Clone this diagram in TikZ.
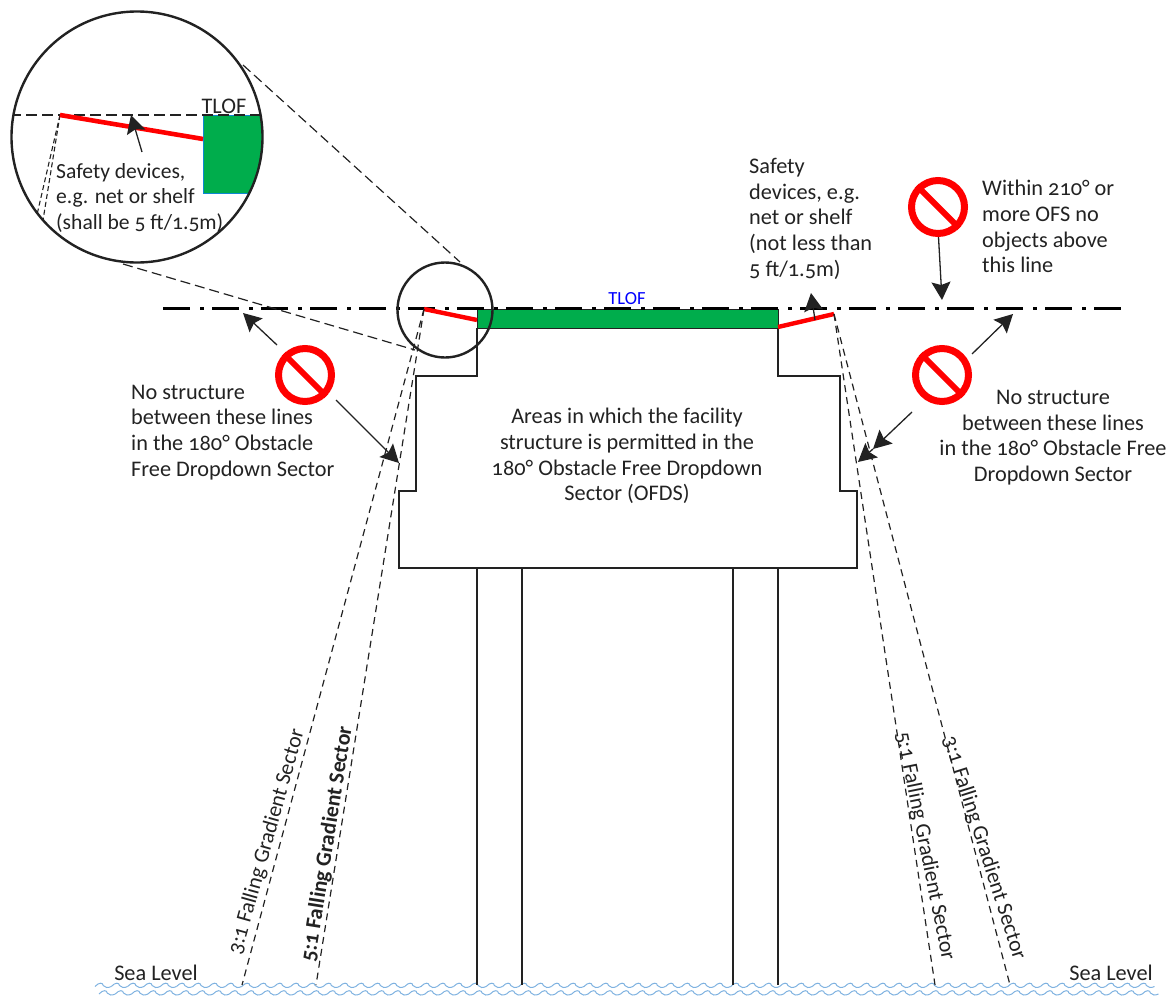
\documentclass[tikz,border=0pt]{standalone}
\usepackage{fontspec}
\setmainfont[Numbers=OldStyle]{Carlito}
\usetikzlibrary{arrows.meta}
\definecolor{ink}{HTML}{222222}
\definecolor{padgreen}{HTML}{00AD4C}
\definecolor{netred}{HTML}{FF0000}
\definecolor{wave}{HTML}{7FB2E0}
\tikzset{
  lab/.style={font=\fontsize{22.3}{25.7}\selectfont,text=ink,inner sep=0pt,align=center},
  labl/.style={lab,align=left},
  slant/.style={font=\fontsize{21.8}{22}\selectfont,text=ink,inner sep=0pt},
  struct/.style={draw=ink,line width=1.4pt},
  fall/.style={draw=ink,line width=1.2pt,dash pattern=on 7pt off 5pt},
  zoomline/.style={draw=ink,line width=1.2pt,dash pattern=on 10pt off 5pt},
  ofs/.style={draw=black,line width=3pt,dash pattern=on 27pt off 10pt on 4pt off 8pt},
  net/.style={draw=netred,line width=4.4pt},
  lens/.style={draw=ink,line width=2.4pt},
  pointer/.style={draw=ink,line width=1.3pt,-{Stealth[length=18pt,width=19pt,inset=3pt]}},
  wavy/.style={draw=wave,line width=1pt},
}
\newcommand{\nosign}[2]{%
  \node[circle,draw=netred,line width=7pt,minimum size=53pt,inner sep=0pt,fill=white] (#1) at #2 {};
  \draw[draw=netred,line width=6pt] (#1.135) -- (#1.-45);
}
\begin{document}
\begin{tikzpicture}[x=1pt,y=-1pt]
\useasboundingbox (0,0) rectangle (1175,996);
% waves
\foreach \r/\yy/\st in {0/985.5/95,1/993/99}{
  \foreach \i in {0,...,64}{
    \pgfmathsetmacro{\xx}{\st+16.3*\i}
    \draw[wavy] (\xx,\yy+1) .. controls (\xx+4,\yy-3.5) and (\xx+8,\yy-3) .. (\xx+8.2,\yy) .. controls (\xx+10,\yy+2.5) and (\xx+13,\yy+2.5) .. (\xx+16.3,\yy+1);
  }
}
% structure
\coordinate (s1) at (477,328); \coordinate (s2) at (477,376); \coordinate (s3) at (416,376);
\coordinate (s4) at (416,491); \coordinate (s5) at (399,491); \coordinate (s6) at (399,568);
\coordinate (s7) at (857,568); \coordinate (s8) at (857,491); \coordinate (s9) at (840,491);
\coordinate (s10) at (840,376); \coordinate (s11) at (778,376); \coordinate (s12) at (778,328);
\draw[struct] (s1)--(s2)--(s3)--(s4)--(s5)--(s6)--(s7)--(s8)--(s9)--(s10)--(s11)--(s12);
\foreach \n/\x in {a/477,b/522,c/733,d/778}{
  \coordinate (leg\n t) at (\x,568); \coordinate (leg\n b) at (\x,985);
  \draw[struct] (leg\n t)--(leg\n b);
}
% pad
\node[fill=padgreen,draw=ink,line width=0.8pt,minimum width=301pt,minimum height=19.5pt,inner sep=0pt,anchor=north west] (pad) at (477,308.5) {};
% OFS line
\coordinate (ofsL) at (163,308); \coordinate (ofsR) at (1125,308);
\draw[ofs] (ofsL)--(ofsR);
% nets
\coordinate (netLo) at (424,309); \coordinate (netLi) at (477,320);
\coordinate (netRi) at (778,327); \coordinate (netRo) at (834,314);
\draw[net] (netLo)--(netLi);
\draw[net] (netRi)--(netRo);
% falling gradient lines
\coordinate (f3L) at (242,985); \coordinate (f5L) at (316,985);
\coordinate (f5R) at (935,985); \coordinate (f3R) at (1010,985);
\draw[fall] (netLo)--(f3L);
\draw[fall] (netLo)--(f5L);
\draw[fall] (netRo)--(f5R);
\draw[fall] (netRo)--(f3R);
% lenses and zoom rays
\node[circle,lens,minimum size=95pt,inner sep=0pt] (small) at (445,310) {};
\coordinate (rayTa) at (243,65); \coordinate (rayTb) at (460,262);
\coordinate (rayBa) at (123,264); \coordinate (rayBb) at (415,350);
\draw[zoomline] (rayTa)--(rayTb);
\draw[zoomline] (rayBa)--(rayBb);
% big circle contents
\begin{scope}
  \clip (137,137) circle (125);
  \node[fill=padgreen,draw=cyan!70!blue,line width=1pt,minimum width=70pt,minimum height=78pt,inner sep=0pt,anchor=north west] (bigpad) at (203,115) {};
  \coordinate (bl) at (10,115); \coordinate (br) at (265,115);
  \draw[draw=ink,line width=1.2pt,dash pattern=on 11pt off 5pt] (bl)--(br);
  \coordinate (bneto) at (60,115); \coordinate (bneti) at (203,139);
  \coordinate (bf3) at (30,245); \coordinate (bf5) at (39,245);
  \draw[draw=ink,line width=1.1pt,dash pattern=on 5pt off 3pt] (bneto)--(bf3);
  \draw[draw=ink,line width=1.1pt,dash pattern=on 5pt off 3pt] (bneto)--(bf5);
  \draw[draw=netred,line width=4.6pt] (bneto)--(bneti);
\end{scope}
\node[circle,lens,minimum size=251pt,inner sep=0pt] (big) at (137,137) {};
\coordinate (bpS) at (142,152); \coordinate (bpE) at (131,115);
\draw[pointer] (bpS)--(bpE);
\node[lab] (tlofbig) at (224,106) {TLOF};
\node[labl,anchor=north west,font=\fontsize{21.6}{25.7}\selectfont] (safebig) at (56,163) {Safety devices,\\e.g. net or shelf\\(shall be 5 ft/1.5m)};
% signs
\nosign{signT}{(938,207)}
\nosign{signR}{(942,375)}
\nosign{signL}{(305,375)}
% pointers
\coordinate (pTs) at (938.5,237); \coordinate (pTe) at (942,300);
\draw[pointer] (pTs)--(pTe);
\coordinate (pRus) at (972,354); \coordinate (pRue) at (1013,314);
\draw[pointer] (pRus)--(pRue);
\coordinate (pRls) at (912,412); \coordinate (pRlm) at (873,449); \coordinate (pRle) at (858,462);
\draw[pointer] (pRls)--(pRlm);
\draw[pointer] (pRlm)--(pRle);
\coordinate (pLus) at (277,345); \coordinate (pLue) at (243,313);
\draw[pointer] (pLus)--(pLue);
\coordinate (pLls) at (336,400); \coordinate (pLle) at (399,463);
\draw[pointer] (pLls)--(pLle);
\coordinate (pSs) at (815,320); \coordinate (pSe) at (811,293);
\draw[pointer] (pSs)--(pSe);
% labels
\node[lab,text=blue,font=\fontsize{18.5}{22}\selectfont] (tlof) at (627,299) {TLOF};
\node[labl,anchor=north west] (safe) at (749,158) {Safety\\devices, e.g.\\net or shelf\\(not less than\\5 ft/1.5m)};
\node[labl,anchor=north west] (within) at (982,180) {Within 210° or\\more OFS no\\objects above\\this line};
\node[labl,anchor=north west] (noL) at (131,384.5) {No structure\\between these lines\\in the 180° Obstacle\\Free Dropdown Sector};
\node[lab,anchor=north] (noR) at (1053,390) {No structure\\between these lines\\in the 180° Obstacle Free\\Dropdown Sector};
\node[lab,anchor=north] (areas) at (627,408) {Areas in which the facility\\structure is permitted in the\\180° Obstacle Free Dropdown\\Sector (OFDS)};
\node[slant,rotate=74.3] (l3) at (267,842) {3:1 Falling Gradient Sector};
\node[slant,rotate=81,font=\fontsize{21.8}{22}\selectfont\bfseries] (l5) at (327.5,844) {5:1 Falling Gradient Sector};
\node[slant,rotate=-78.6] (r5) at (925,846) {5:1 Falling Gradient Sector};
\node[slant,rotate=-72.3] (r3) at (984,848) {3:1 Falling Gradient Sector};
\node[lab] (seaL) at (156,973) {Sea Level};
\node[lab] (seaR) at (1111,973) {Sea Level};
\end{tikzpicture}
\end{document}
